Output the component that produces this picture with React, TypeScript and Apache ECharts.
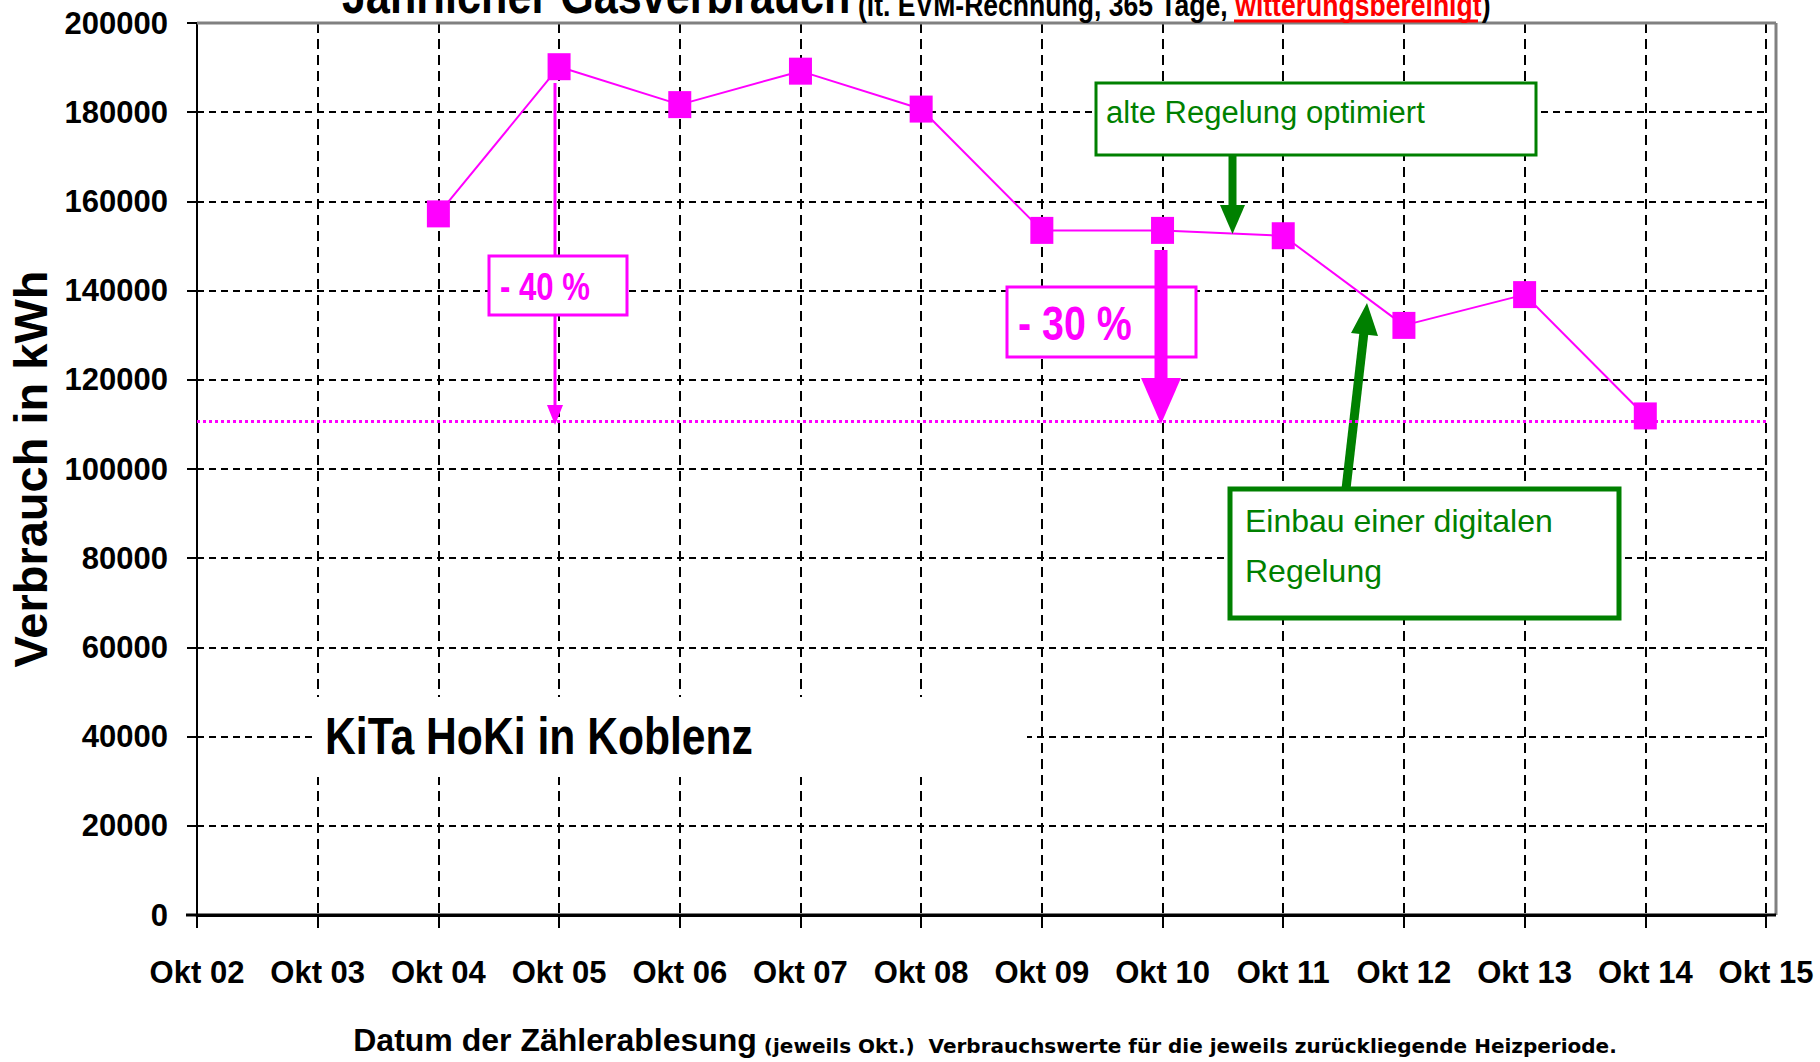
import React, { useEffect, useRef } from 'react';
import * as echarts from 'echarts';

// ---------- data ----------
const categories = ['Okt 02', 'Okt 03', 'Okt 04', 'Okt 05', 'Okt 06', 'Okt 07', 'Okt 08', 'Okt 09', 'Okt 10', 'Okt 11', 'Okt 12', 'Okt 13', 'Okt 14', 'Okt 15'];
const consumption = [null, null, 157200, 190200, 181700, 189200, 180700, 153500, 153500, 152300, 132200, 139100, 111900, null];
const targetLevel = 110800;
const yMin = 0;
const yMax = 200000;
const yStep = 20000;

// ---------- texts ----------
const titleMain = 'Jährlicher Gasverbrauch';
const titleSub = ' (lt. EVM-Rechnung, 365 Tage, ';
const titleRed = 'witterungsbereinigt';
const titleEnd = ')';
const xName = 'Datum der Zählerablesung';
const xNameSub = ' (jeweils Okt.)  Verbrauchswerte für die jeweils zurückliegende Heizperiode.';
const yName = 'Verbrauch in kWh';
const siteLabel = 'KiTa HoKi in Koblenz';
const drop40 = '- 40 %';
const drop30 = '- 30 %';
const note1 = 'alte Regelung optimiert';
const note2 = ['Einbau einer digitalen', 'Regelung'];

const SANS = '"Liberation Sans", Arial, sans-serif';
const WIDE = '"DejaVu Sans", "Liberation Sans", sans-serif';
const MAGENTA = '#FF00FF';
const GREEN = '#008000';
const NARROW_SCALE = 0.82;

function txt(x: number, y: number, text: string, size: number, color: string, weight: string, z: number, scaleX = 1) {
  return {
    type: 'text', x, y, z, scaleX,
    style: { text, fill: color, fontSize: size, fontFamily: SANS, fontWeight: weight, align: 'left', verticalAlign: 'middle', textAlign: 'left', textVerticalAlign: 'middle' },
  };
}

export default function App() {
  const ref = useRef<HTMLDivElement>(null);
  useEffect(() => {
    if (!ref.current) return;
    const chart = echarts.init(ref.current, null, { renderer: 'svg' });
    const option: any = {
      animation: false,
      backgroundColor: '#ffffff',
      grid: { left: 197, right: 54, top: 23, bottom: 147, show: false, containLabel: false, outerBoundsMode: 'none' },
      xAxis: {
        type: 'category',
        data: categories,
        boundaryGap: false,
        axisLine: { lineStyle: { color: '#000', width: 3 } },
        axisTick: { show: true, interval: 0, length: 13, lineStyle: { color: '#000', width: 2 } },
        axisLabel: { interval: 0, margin: 42, color: '#000', fontSize: 31, fontWeight: 'bold', fontFamily: SANS },
        splitLine: { show: true, interval: 0, lineStyle: { color: '#000', width: 2, type: [10, 6] } },
      },
      yAxis: {
        type: 'value',
        min: yMin,
        max: yMax,
        interval: yStep,
        axisLine: { show: true, lineStyle: { color: '#000', width: 2 } },
        axisTick: { show: true, length: 10, lineStyle: { color: '#000', width: 2 } },
        axisLabel: { margin: 29, color: '#000', fontSize: 31, fontWeight: 'bold', fontFamily: SANS, formatter: (v: number) => String(v) },
        splitLine: { show: true, lineStyle: { color: '#000', width: 2, type: [7, 5] } },
        name: yName,
        nameLocation: 'middle',
        nameGap: 140,
        nameTextStyle: { color: '#000', fontSize: 47, fontWeight: 'bold', fontFamily: SANS },
      },
      series: [
        {
          type: 'line',
          data: consumption,
          symbol: 'rect',
          symbolSize: [23, 27],
          itemStyle: { color: MAGENTA },
          lineStyle: { color: MAGENTA, width: 2 },
          z: 3,
          markLine: {
            silent: true,
            symbol: 'none',
            label: { show: false },
            lineStyle: { color: MAGENTA, width: 3, type: [3, 3] },
            data: [{ yAxis: targetLevel }],
          },
        },
      ],
      graphic: [
        // site label with white background
        { type: 'rect', z: 1, shape: { x: 316, y: 697, width: 711, height: 80 }, style: { fill: '#fff' } },
        txt(325, 736, siteLabel, 52, '#000', 'bold', 2, NARROW_SCALE),
        // -40 % arrow
        { type: 'line', z: 4, shape: { x1: 555, y1: 83, x2: 555, y2: 408 }, style: { stroke: MAGENTA, lineWidth: 3 } },
        { type: 'polygon', z: 4, shape: { points: [[547, 405], [563, 405], [555, 425]] }, style: { fill: MAGENTA } },
        { type: 'rect', z: 5, shape: { x: 489, y: 256, width: 138, height: 59 }, style: { fill: '#fff', stroke: MAGENTA, lineWidth: 3 } },
        txt(500, 287, drop40, 38, MAGENTA, 'bold', 6, NARROW_SCALE),
        // -30 % arrow
        { type: 'rect', z: 5, shape: { x: 1007, y: 287, width: 189, height: 70 }, style: { fill: '#fff', stroke: MAGENTA, lineWidth: 3 } },
        txt(1018, 323, drop30, 48, MAGENTA, 'bold', 6, NARROW_SCALE),
        { type: 'line', z: 7, shape: { x1: 1161, y1: 250, x2: 1161, y2: 380 }, style: { stroke: MAGENTA, lineWidth: 13 } },
        { type: 'polygon', z: 7, shape: { points: [[1141, 378], [1181, 378], [1161, 424]] }, style: { fill: MAGENTA } },
        // green note 1
        { type: 'rect', z: 5, shape: { x: 1096, y: 83, width: 440, height: 72 }, style: { fill: '#fff', stroke: GREEN, lineWidth: 3 } },
        txt(1106, 112, note1, 31, GREEN, 'normal', 6),
        { type: 'line', z: 5, shape: { x1: 1232.5, y1: 155, x2: 1232.5, y2: 207 }, style: { stroke: GREEN, lineWidth: 8 } },
        { type: 'polygon', z: 5, shape: { points: [[1220, 205], [1245, 205], [1232.5, 234]] }, style: { fill: GREEN } },
        // green note 2
        { type: 'line', z: 5, shape: { x1: 1346, y1: 489, x2: 1364, y2: 332 }, style: { stroke: GREEN, lineWidth: 9 } },
        { type: 'polygon', z: 5, shape: { points: [[1351, 333], [1378, 336], [1367, 303]] }, style: { fill: GREEN } },
        { type: 'rect', z: 5, shape: { x: 1230, y: 489, width: 389, height: 129 }, style: { fill: '#fff', stroke: GREEN, lineWidth: 5 } },
        txt(1245, 521, note2[0], 32, GREEN, 'normal', 6),
        txt(1245, 571, note2[1], 32, GREEN, 'normal', 6),
        // plot frame (grey top/right) and extended base line
        { type: 'line', z: 8, shape: { x1: 197, y1: 23, x2: 1776, y2: 23 }, style: { stroke: '#808080', lineWidth: 3 } },
        { type: 'line', z: 8, shape: { x1: 1776, y1: 23, x2: 1776, y2: 915 }, style: { stroke: '#808080', lineWidth: 3 } },
        { type: 'line', z: 9, shape: { x1: 186, y1: 915, x2: 1776, y2: 915 }, style: { stroke: '#000', lineWidth: 3 } },
        // title (cut off at top)
        {
          type: 'text', x: 342, y: 21, z: 10, scaleX: 0.83,
          style: {
            text: `{a|${titleMain}}{s|${titleSub}}{r|${titleRed}}{s|${titleEnd}}`,
            align: 'left', verticalAlign: 'bottom', textAlign: 'left', textVerticalAlign: 'bottom',
            rich: {
              a: { fontSize: 52, lineHeight: 52, fontWeight: 'bold', fontFamily: SANS, fill: '#000', color: '#000', verticalAlign: 'bottom' },
              s: { fontSize: 32, lineHeight: 32, fontWeight: 'bold', fontFamily: SANS, fill: '#000', color: '#000', verticalAlign: 'bottom' },
              r: { fontSize: 32, lineHeight: 32, fontWeight: 'bold', fontFamily: SANS, fill: '#FF0000', color: '#FF0000', verticalAlign: 'bottom' },
            },
          },
        },
        { type: 'line', z: 10, shape: { x1: 1234, y1: 21, x2: 1478, y2: 21 }, style: { stroke: '#FF0000', lineWidth: 3 } },
        // x axis name
        {
          type: 'text', x: 985, y: 1056, z: 10,
          style: {
            text: `{a|${xName}}{b|${xNameSub}}`,
            align: 'center', verticalAlign: 'bottom', textAlign: 'center', textVerticalAlign: 'bottom',
            rich: {
              a: { fontSize: 32, lineHeight: 32, fontWeight: 'bold', fontFamily: SANS, fill: '#000', color: '#000', verticalAlign: 'bottom' },
              b: { fontSize: 20, lineHeight: 20, fontWeight: 'bold', fontFamily: WIDE, fill: '#000', color: '#000', verticalAlign: 'bottom' },
            },
          },
        },
      ],
    };
    chart.setOption(option);
    return () => chart.dispose();
  }, []);
  return <div ref={ref} style={{ position: 'absolute', left: 0, top: 0, width: 1820, height: 1062 }} />;
}
